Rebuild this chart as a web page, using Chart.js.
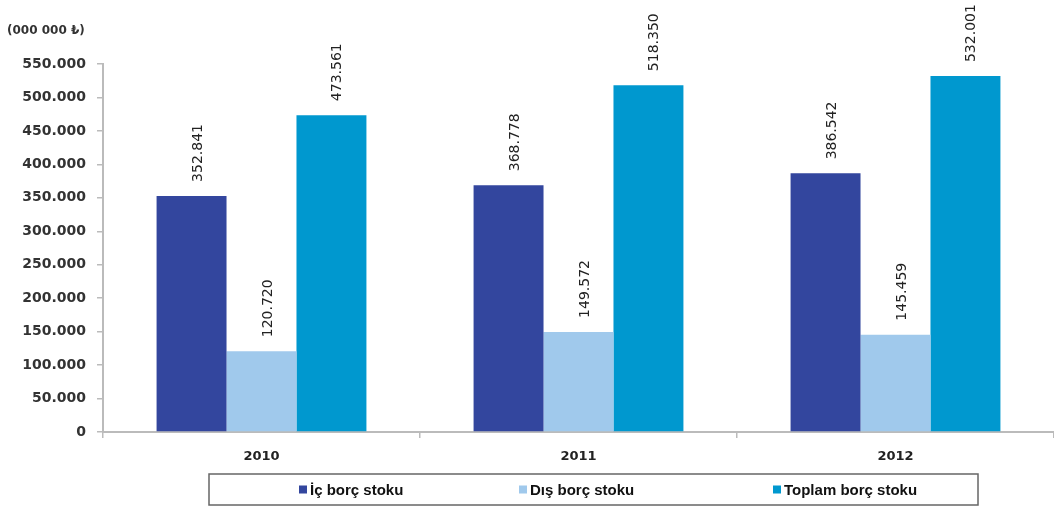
<!DOCTYPE html>
<html><head><meta charset="utf-8">
<script src="https://cdn.jsdelivr.net/npm/chart.js@4/dist/chart.umd.min.js"></script>
<style>html,body{margin:0;padding:0;background:#fff}#wrap{width:1054px;height:509px}</style>
</head><body><div id="wrap"><canvas id="c" width="1054" height="509"></canvas></div>
<script>
const categories = ['2010', '2011', '2012'];
const icBorc = [352841, 368778, 386542];
const disBorc = [120720, 149572, 145459];
const toplamBorc = [473561, 518350, 532001];
const seriesNames = ['İç borç stoku', 'Dış borç stoku', 'Toplam borç stoku'];
const seriesColors = ['#33469E', '#A0C9EC', '#0098CF'];
const unitLabel = '(000 000 ₺)';

function fmt(v){ return String(Math.round(v)).replace(/\B(?=(\d{3})+(?!\d))/g, '.'); }

const FONT = '"DejaVu Sans", Verdana, sans-serif';
const LFONT = '"Liberation Sans", Arial, sans-serif';

const decor = {
  id: 'decor',
  afterDatasetsDraw(chart){
    const ctx = chart.ctx;
    ctx.save();
    ctx.fillStyle = '#222';
    ctx.font = '14px ' + FONT;
    chart.data.datasets.forEach((ds, di) => {
      const meta = chart.getDatasetMeta(di);
      meta.data.forEach((bar, i) => {
        ctx.save();
        ctx.translate(bar.x + 10, bar.y - 14);
        ctx.rotate(-Math.PI/2);
        ctx.textAlign = 'left';
        ctx.textBaseline = 'alphabetic';
        ctx.fillText(fmt(ds.data[i]), 0, 0);
        ctx.restore();
      });
    });
    // unit label
    ctx.font = 'bold 12px ' + FONT;
    ctx.fillStyle = '#333';
    ctx.textAlign = 'left';
    ctx.textBaseline = 'middle';
    ctx.fillText(unitLabel, 7, 31);
    // legend box
    const lx = 209, ly = 474, lw = 769, lh = 31;
    ctx.strokeStyle = '#666';
    ctx.lineWidth = 1.5;
    ctx.strokeRect(lx, ly, lw, lh);
    const itemX = [299, 519, 773];
    ctx.font = 'bold 15px ' + LFONT;
    seriesNames.forEach((n, i) => {
      ctx.fillStyle = seriesColors[i];
      ctx.fillRect(itemX[i], ly + lh/2 - 4, 8, 8);
      ctx.fillStyle = '#111';
      ctx.fillText(n, itemX[i] + 11, ly + lh/2 + 1);
    });
    ctx.restore();
  }
};

new Chart(document.getElementById('c'), {
  type: 'bar',
  data: {
    labels: categories,
    datasets: [
      { label: seriesNames[0], data: icBorc, backgroundColor: seriesColors[0] },
      { label: seriesNames[1], data: disBorc, backgroundColor: seriesColors[1] },
      { label: seriesNames[2], data: toplamBorc, backgroundColor: seriesColors[2] }
    ]
  },
  options: {
    responsive: false,
    animation: false,
    layout: { padding: { top: 64, right: 0, left: 0, bottom: 0 } },
    plugins: { legend: { display: false }, tooltip: { enabled: false } },
    datasets: { bar: { categoryPercentage: 0.662, barPercentage: 1.0 } },
    scales: {
      x: {
        grid: { display: true, drawOnChartArea: false, drawTicks: true, tickLength: 6, color: '#bbb', offset: true, lineWidth: 1.5 },
        border: { display: true, color: '#bbb', width: 2 },
        ticks: { color: '#222', font: { family: FONT, size: 13, weight: 'bold' }, padding: 11 },
        afterFit(s){ s.height = 77; }
      },
      y: {
        min: 0, max: 550000,
        grid: { display: true, drawOnChartArea: false, drawTicks: true, tickLength: 6, color: '#bbb', lineWidth: 1.5 },
        border: { display: true, color: '#bbb', width: 2 },
        ticks: { stepSize: 50000, color: '#333', font: { family: FONT, size: 14, weight: 'bold' }, padding: 11,
          callback: v => fmt(v) },
        afterFit(s){ s.width = 103; }
      }
    }
  },
  plugins: [decor]
});
</script>
</body></html>
